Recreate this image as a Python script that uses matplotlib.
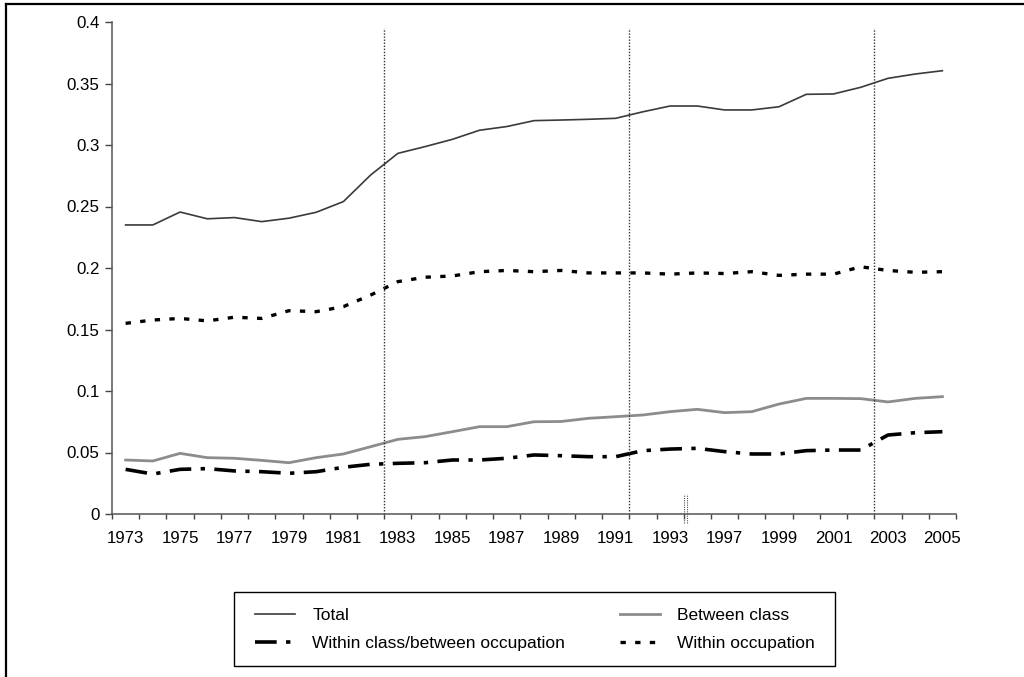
import matplotlib
matplotlib.use("Agg")
import matplotlib.pyplot as plt
from matplotlib.lines import Line2D
from matplotlib.patches import Rectangle
from matplotlib.ticker import FixedLocator, FuncFormatter, NullFormatter

plt.rcParams['font.family'] = ['Liberation Sans', 'DejaVu Sans']

years = [1973, 1974, 1975, 1976, 1977, 1978, 1979, 1980, 1981, 1982, 1983,
         1984, 1985, 1986, 1987, 1988, 1989, 1990, 1991, 1992, 1993, 1994,
         1997, 1998, 1999, 2000, 2001, 2002, 2003, 2004, 2005]

total = [0.235, 0.235, 0.2455, 0.240, 0.241, 0.2377, 0.2405, 0.2453, 0.254,
         0.2756, 0.2932, 0.2987, 0.3046, 0.312, 0.315, 0.3198, 0.3203, 0.3209,
         0.3217, 0.327, 0.3317, 0.3317, 0.3285, 0.3285, 0.3311, 0.3412,
         0.3415, 0.3469, 0.3542, 0.3577, 0.3604]

between_class = [0.0439, 0.0431, 0.0493, 0.0458, 0.0453, 0.0436, 0.0417,
                 0.0458, 0.0488, 0.0547, 0.0607, 0.0629, 0.0669, 0.071,
                 0.071, 0.075, 0.0752, 0.0778, 0.0791, 0.0805, 0.0832,
                 0.0851, 0.0824, 0.0832, 0.0894, 0.094, 0.094, 0.0938,
                 0.0911, 0.094, 0.0954]

within_class_between_occ = [0.0363, 0.0325, 0.0363, 0.0369, 0.035, 0.0344,
                            0.0331, 0.0344, 0.038, 0.0404, 0.0412, 0.0417,
                            0.0439, 0.0439, 0.0453, 0.048, 0.0474, 0.0466,
                            0.0466, 0.0515, 0.0528, 0.0534, 0.0507, 0.0488,
                            0.0488, 0.0515, 0.052, 0.052, 0.0642, 0.0661,
                            0.0669]

within_occupation = [0.155, 0.1577, 0.159, 0.157, 0.160, 0.159, 0.1653,
                     0.1645, 0.1686, 0.178, 0.1889, 0.1925, 0.1935, 0.197,
                     0.198, 0.197, 0.198, 0.196, 0.196, 0.196, 0.195, 0.196,
                     0.1955, 0.197, 0.194, 0.195, 0.195, 0.201, 0.198,
                     0.1965, 0.197]

period_breaks = [1983, 1992, 2003]   # vertical dotted lines before these years
series_break_after = 1993            # small break mark on the axis

labels = ["Total", "Between class", "Within class/between occupation",
          "Within occupation"]
y_ticks = [0, 0.05, 0.1, 0.15, 0.2, 0.25, 0.3, 0.35, 0.4]

W, H = 1024, 677
fig = plt.figure(figsize=(W / 100, H / 100), dpi=100)
ax = fig.add_axes([112 / W, 1 - 514 / H, 844 / W, 492 / H])

x = list(range(len(years)))

l_total, = ax.plot(x, total, color='#3a3a3a', lw=1.2, solid_joinstyle='round')
l_bc, = ax.plot(x, between_class, color='#8c8c8c', lw=2.0)
l_wcbo, = ax.plot(x, within_class_between_occ, color='black', lw=2.6,
                  linestyle=(0, (6, 2.6, 1.2, 2.6)))
l_wo, = ax.plot(x, within_occupation, color='black', lw=2.4,
                linestyle=(0, (1.6, 2.8)))

for yr in period_breaks:
    xb = years.index(yr) - 0.5
    ax.plot([xb, xb], [0, 0.395], color='#333333', lw=1.0,
            linestyle=(0, (1, 1.2)))

xb = years.index(series_break_after) + 0.5
for dx in (0.02, 0.13):
    ax.plot([xb + dx, xb + dx], [-0.0075, 0.016], color='#555555', lw=0.8,
            linestyle=(0, (1, 1)), clip_on=False)

ax.set_xlim(-0.5, len(years) - 0.5)
ax.set_ylim(0, 0.4)

ax.xaxis.set_major_locator(FixedLocator([i - 0.5 for i in range(len(years) + 1)]))
ax.xaxis.set_major_formatter(NullFormatter())
ax.xaxis.set_minor_locator(FixedLocator(x[::2]))
ax.xaxis.set_minor_formatter(FuncFormatter(lambda v, p: str(years[int(round(v))])))
ax.tick_params(axis='x', which='major', direction='out', length=3.5,
               width=1.0, color='#444444')
ax.tick_params(axis='x', which='minor', length=0, pad=12, labelsize=12.2)

ax.set_yticks(y_ticks)
ax.yaxis.set_major_formatter(FuncFormatter(lambda v, p: f"{v:g}"))
ax.tick_params(axis='y', direction='out', length=5, width=1.0,
               color='#444444', pad=4, labelsize=12.2)

for s in ('top', 'right'):
    ax.spines[s].set_visible(False)
for s in ('left', 'bottom'):
    ax.spines[s].set_color('#555555')
    ax.spines[s].set_linewidth(1.1)

# row-major ordering (matplotlib fills legend columns first)
handles = [l_total, l_wcbo, l_bc, l_wo]
leg_labels = [labels[0], labels[2], labels[1], labels[3]]
leg = fig.legend(handles, leg_labels, ncol=2,
                 loc='upper left',
                 bbox_to_anchor=(255 / W, 1 - 608 / H, 560 / W, 0.0),
                 mode='expand', frameon=False,
                 fontsize=12.5, handlelength=2.3,
                 handletextpad=1.0, borderpad=0.0, labelspacing=0.74,
                 borderaxespad=0)

fig.add_artist(Rectangle((234 / W, 1 - 666 / H), 601 / W, 74 / H,
                         transform=fig.transFigure, fill=False,
                         edgecolor='black', lw=1.0))

fig.add_artist(Line2D([6 / W, 1], [1 - 4 / H, 1 - 4 / H],
                      color='black', lw=1.6, transform=fig.transFigure))
fig.add_artist(Line2D([6 / W, 6 / W], [0, 1 - 4 / H],
                      color='black', lw=1.6, transform=fig.transFigure))

fig.savefig('out.png', dpi=100)
